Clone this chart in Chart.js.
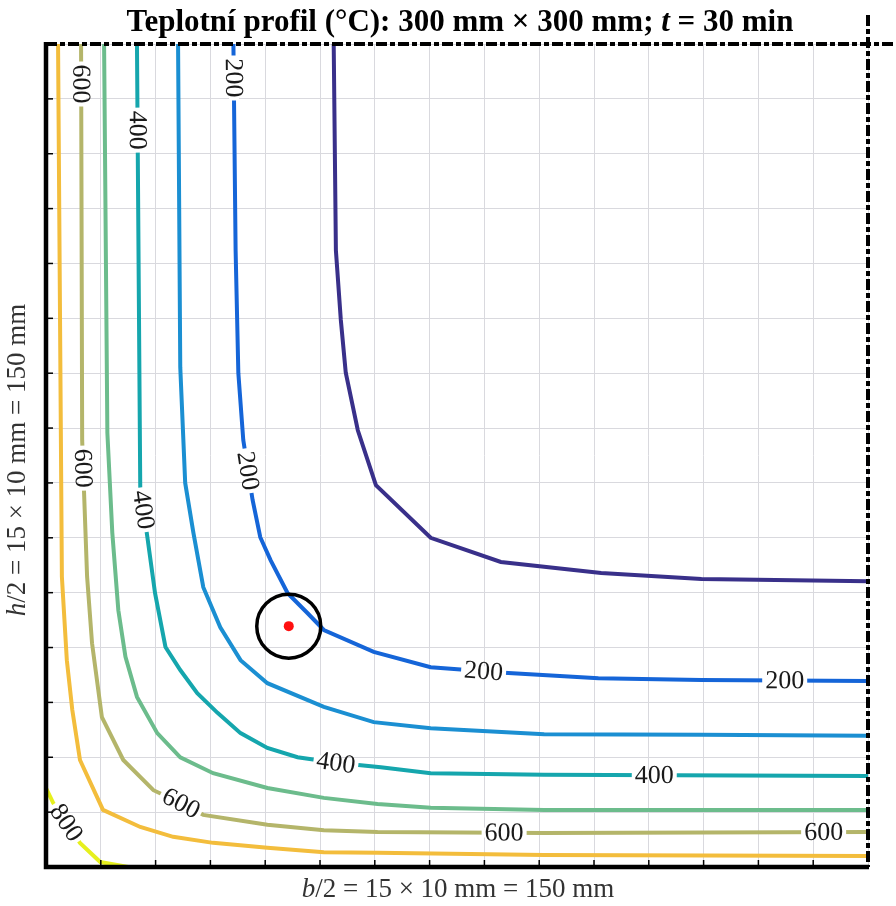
<!DOCTYPE html>
<html>
<head>
<meta charset="utf-8">
<script src="https://cdn.jsdelivr.net/npm/chart.js@4/dist/chart.umd.min.js"></script>
<style>
html,body{margin:0;padding:0;background:#fff;}
canvas{display:block;}
</style>
</head>
<body>
<canvas id="c" width="896" height="906"></canvas>
<script>
// ---- data (mm) ----
const levels = [100, 200, 300, 400, 500, 600, 700, 800];
const c100x = [52.5, 52.9, 53.8, 54.7, 56.9, 60.2, 70.2, 83.0, 101.3, 119.6, 150];
const c100y = [150, 112.4, 99.7, 90.1, 79.6, 69.6, 60.0, 55.6, 53.6, 52.5, 52.1];
const c200x = [34.2, 34.6, 35.1, 36.0, 37.7, 39.1, 41.0, 44.1, 47.7, 50.7, 59.8, 70.2, 83.6, 100.8, 119.6, 150];
const c200y = [150, 112.4, 90.0, 77.8, 66.9, 60.1, 55.9, 49.9, 46.3, 43.2, 39.2, 36.4, 35.4, 34.4, 34.1, 33.9];
const c300x = [24.1, 24.5, 25.4, 26.9, 28.7, 31.8, 35.5, 40.4, 50.7, 59.8, 70.2, 90.9, 119.6, 150];
const c300y = [150, 91.1, 70.0, 60.9, 51.0, 43.7, 37.7, 33.5, 29.2, 26.4, 25.3, 24.2, 24.1, 23.9];
const c400x = [16.6, 17.2, 18.5, 19.9, 21.8, 24.5, 27.6, 31.3, 35.5, 40.4, 45.9, 52.9, 61.1, 70.2, 90.9, 150];
const c400y = [150, 69.3, 60.1, 49.9, 40.1, 35.9, 31.7, 28.1, 24.4, 21.7, 20.0, 19.0, 18.2, 17.1, 16.8, 16.6];
const c500x = [10.6, 11.2, 12.1, 13.2, 14.5, 16.6, 20.3, 24.5, 30.5, 40.4, 50.7, 60.5, 70.2, 90.9, 150];
const c500y = [150, 79.1, 60.9, 46.8, 38.3, 31.0, 24.4, 20.0, 17.1, 14.4, 12.6, 11.5, 10.8, 10.4, 10.4];
const c600x = [6.4, 6.6, 7.5, 8.4, 10.2, 14.1, 19.6, 24.5, 28.7, 40.4, 50.7, 60.5, 90.9, 150];
const c600y = [150, 77.8, 52.9, 40.8, 27.3, 19.5, 14.0, 11.7, 9.5, 7.7, 6.7, 6.4, 6.2, 6.4];
const c700x = [2.2, 2.9, 3.8, 4.8, 6.2, 10.4, 17.2, 23.2, 30.5, 40.4, 50.7, 60.5, 90.9, 150];
const c700y = [150, 52.9, 37.7, 28.6, 19.5, 10.4, 7.3, 5.5, 4.4, 3.5, 2.7, 2.6, 2.2, 2.0];
const c800x = [0, 1.3, 6.2, 9.9, 15.0];
const c800y = [14.4, 11.7, 4.4, 0.9, 0];
const contourX = [c100x, c200x, c300x, c400x, c500x, c600x, c700x, c800x];
const contourY = [c100y, c200y, c300y, c400y, c500y, c600y, c700y, c800y];
const colors = ['#39308a', '#1565d8', '#1b8fd2', '#15a6ad', '#6cbc8c', '#b4b56a', '#f3bd3c', '#e6f01e'];

const labelLevel = [200, 200, 200, 200, 400, 400, 400, 400, 600, 600, 600, 600, 600, 800];
const labelX = [34.2, 36.8, 79.9, 134.8, 16.8, 17.7, 52.9, 111.0, 6.6, 6.8, 24.7, 83.6, 141.9, 3.6];
const labelY = [143.8, 72.2, 36.3, 34.1, 134.3, 65.1, 19.0, 16.6, 142.7, 72.7, 11.7, 6.4, 6.4, 8.0];

const markX = [44.3];
const markY = [43.9];

const axisMin = 0, axisMax = 150, axisStep = 10;

// ---- build datasets ----
const datasets = levels.map((lv, i) => ({
  label: String(lv),
  data: contourX[i].map((x, j) => ({x: x, y: contourY[i][j]})),
  showLine: true,
  borderColor: colors[i],
  borderWidth: 4,
  pointRadius: 0,
  tension: 0,
  fill: false,
  order: 1
}));
datasets.push({
  label: 'circle',
  data: markX.map((x, j) => ({x: x, y: markY[j]})),
  showLine: false,
  pointRadius: 32,
  pointBorderWidth: 3.5,
  pointBorderColor: '#000',
  pointBackgroundColor: 'rgba(0,0,0,0)',
  order: -1
});
datasets.push({
  label: 'dot',
  data: markX.map((x, j) => ({x: x, y: markY[j]})),
  showLine: false,
  pointRadius: 5,
  pointBorderWidth: 0,
  pointBackgroundColor: '#ff1010',
  pointBorderColor: '#ff1010',
  order: -2
});

const SERIF = '"Liberation Serif", "DejaVu Serif", serif';

function drawRich(ctx, segs, cx, cy, rot, color) {
  ctx.save();
  ctx.translate(cx, cy);
  ctx.rotate(rot);
  ctx.textBaseline = 'middle';
  ctx.textAlign = 'left';
  ctx.fillStyle = color;
  let total = 0;
  segs.forEach(s => { ctx.font = s.f; s.w = ctx.measureText(s.t).width; total += s.w; });
  let x = -total / 2;
  segs.forEach(s => { ctx.font = s.f; ctx.fillText(s.t, x, 0); x += s.w; });
  ctx.restore();
}

function zeroFit(s, horizontal) {
  if (horizontal) s.height = 0; else s.width = 0;
  s.paddingLeft = 0; s.paddingRight = 0; s.paddingTop = 0; s.paddingBottom = 0;
}

const decorPlugin = {
  id: 'decor',
  afterDatasetsDraw(chart) {
    const ctx = chart.ctx;
    const xs = chart.scales.x, ys = chart.scales.y;
    const L = xs.left, R = xs.right, T = ys.top, B = ys.bottom;

    // contour labels
    ctx.save();
    const fontL = '26px ' + SERIF;
    labelLevel.forEach((lv, k) => {
      const di = levels.indexOf(lv);
      const px = xs.getPixelForValue(labelX[k]);
      const py = ys.getPixelForValue(labelY[k]);
      const xsArr = contourX[di], ysArr = contourY[di];
      let best = null;
      for (let j = 0; j < xsArr.length - 1; j++) {
        const ax = xs.getPixelForValue(xsArr[j]), ay = ys.getPixelForValue(ysArr[j]);
        const bx = xs.getPixelForValue(xsArr[j + 1]), by = ys.getPixelForValue(ysArr[j + 1]);
        const dx = bx - ax, dy = by - ay;
        const len2 = dx * dx + dy * dy || 1;
        let t = ((px - ax) * dx + (py - ay) * dy) / len2;
        t = Math.max(0, Math.min(1, t));
        const qx = ax + t * dx, qy = ay + t * dy;
        const d = (qx - px) * (qx - px) + (qy - py) * (qy - py);
        if (!best || d < best.d) best = {d, qx, qy, ang: Math.atan2(dy, dx)};
      }
      let ang = best.ang;
      if (ang > Math.PI / 2 + 1e-6) ang -= Math.PI;
      if (ang <= -Math.PI / 2 + 1e-6) ang += Math.PI;
      const txt = String(lv);
      ctx.font = fontL;
      const w = ctx.measureText(txt).width;
      ctx.save();
      ctx.translate(best.qx, best.qy);
      ctx.rotate(ang);
      ctx.fillStyle = '#fff';
      ctx.fillRect(-w / 2 - 3, -5, w + 6, 10);
      ctx.fillStyle = '#1a1a1a';
      ctx.textAlign = 'center';
      ctx.textBaseline = 'middle';
      ctx.fillText(txt, 0, 1);
      ctx.restore();
    });
    ctx.restore();

    // inward ticks
    ctx.save();
    ctx.strokeStyle = '#000';
    ctx.lineWidth = 1.5;
    for (let v = axisMin + axisStep; v < axisMax; v += axisStep) {
      const x = xs.getPixelForValue(v);
      ctx.beginPath(); ctx.moveTo(x, B); ctx.lineTo(x, B - 7); ctx.stroke();
      const y = ys.getPixelForValue(v);
      ctx.beginPath(); ctx.moveTo(L, y); ctx.lineTo(L + 7, y); ctx.stroke();
    }
    ctx.restore();

    // borders
    ctx.save();
    ctx.strokeStyle = '#000';
    ctx.lineWidth = 4;
    ctx.setLineDash([11, 3, 5, 3]);
    ctx.beginPath(); ctx.moveTo(L, T); ctx.lineTo(chart.width, T); ctx.stroke();
    ctx.beginPath(); ctx.moveTo(R, 15); ctx.lineTo(R, B); ctx.stroke();
    ctx.setLineDash([]);
    ctx.lineWidth = 4.5;
    ctx.beginPath(); ctx.moveTo(L, T - 2); ctx.lineTo(L, B); ctx.lineTo(R + 1, B); ctx.stroke();
    ctx.restore();
  },
  afterDraw(chart) {
    const ctx = chart.ctx;
    drawRich(ctx, [
      {t: 'Teplotní profil (°C): 300 mm × 300 mm; ', f: 'bold 31px ' + SERIF},
      {t: 't', f: 'italic bold 31px ' + SERIF},
      {t: ' = 30 min', f: 'bold 31px ' + SERIF}
    ], 460, 23, 0, '#000');
    drawRich(ctx, [
      {t: 'b', f: 'italic 27px ' + SERIF},
      {t: '/2 = 15 × 10 mm = 150 mm', f: '27px ' + SERIF}
    ], 458, 890, 0, '#333');
    drawRich(ctx, [
      {t: 'h', f: 'italic 27px ' + SERIF},
      {t: '/2 = 15 × 10 mm = 150 mm', f: '27px ' + SERIF}
    ], 18, 460, -Math.PI / 2, '#333');
  }
};

new Chart(document.getElementById('c'), {
  type: 'scatter',
  data: {datasets},
  options: {
    responsive: false,
    animation: false,
    layout: {autoPadding: false, padding: {top: 44, left: 46, right: 28, bottom: 39}},
    plugins: {legend: {display: false}, tooltip: {enabled: false}, title: {display: false}},
    scales: {
      x: {
        type: 'linear', min: axisMin, max: axisMax,
        ticks: {display: false, stepSize: axisStep},
        grid: {color: '#d9d9de', lineWidth: 1, drawTicks: false},
        border: {display: false},
        afterFit: s => zeroFit(s, true)
      },
      y: {
        type: 'linear', min: axisMin, max: axisMax,
        ticks: {display: false, stepSize: axisStep},
        grid: {color: '#d9d9de', lineWidth: 1, drawTicks: false},
        border: {display: false},
        afterFit: s => zeroFit(s, false)
      }
    }
  },
  plugins: [decorPlugin]
});
</script>
</body>
</html>
